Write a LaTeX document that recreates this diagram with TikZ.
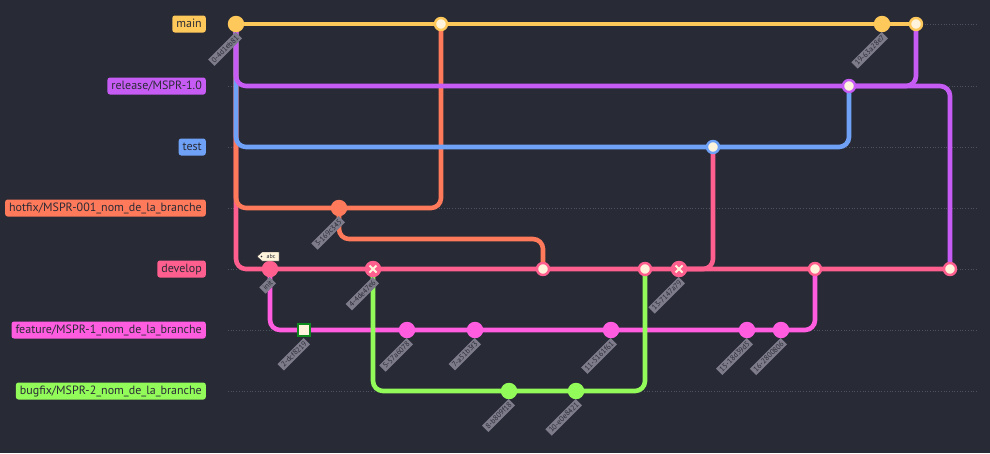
\documentclass[tikz,border=0pt]{standalone}
\usepackage{fontspec}
\setmainfont{PT Sans}
\usetikzlibrary{calc}
\definecolor{bg}{HTML}{282A36}
\definecolor{lanec}{HTML}{4E5160}
\definecolor{cmain}{HTML}{FFC85A}
\definecolor{crel}{HTML}{C75CF5}
\definecolor{ctest}{HTML}{6FA1F7}
\definecolor{chot}{HTML}{FF7A5A}
\definecolor{cdev}{HTML}{FF5F8F}
\definecolor{cfeat}{HTML}{FF5CE0}
\definecolor{cbug}{HTML}{92FB5A}
\definecolor{cream}{HTML}{FFF4DB}
\definecolor{hlgreen}{HTML}{0E8A1E}
\definecolor{labeltext}{HTML}{2B2B36}
\definecolor{clabbg}{HTML}{7E7C8B}
\begin{document}
\begin{tikzpicture}[x=1pt,y=-1pt,
  conn/.style={line width=4.6pt, rounded corners=10pt},
  lane/.style={draw=lanec, line width=0.7pt, dotted},
  blabel/.style={anchor=east, rounded corners=2.5pt, minimum height=17pt, inner xsep=4pt, inner ysep=0pt, text=labeltext, font=\fontsize{12}{13}\selectfont, text height=8.6pt, text depth=2.6pt},
  cmt/.style={circle, minimum size=16.5pt, inner sep=0pt},
  mgc/.style={circle, minimum size=12pt, inner sep=0pt, fill=cream, line width=2.4pt},
  rvc/.style={cmt, path picture={\draw[cream, line width=1.8pt] ([shift={(-3.5pt,-3.5pt)}]path picture bounding box.center) -- ([shift={(3.5pt,3.5pt)}]path picture bounding box.center) ([shift={(-3.5pt,3.5pt)}]path picture bounding box.center) -- ([shift={(3.5pt,-3.5pt)}]path picture bounding box.center);}},
  hlc/.style={rectangle, minimum size=12pt, inner sep=0pt, fill=cream, draw=hlgreen, line width=2.2pt},
  clabel/.style={anchor=east, rotate=45, fill=clabbg, text=labeltext, font=\fontsize{7.5}{8}\selectfont, inner xsep=2pt, inner ysep=1.8pt},
]
\fill[bg] (0,0) rectangle (990,453);
\useasboundingbox (0,0) rectangle (990,453);

% lanes
\foreach \yy in {24,86,147,208,269,330,391} \draw[lane] (228,\yy) -- (976,\yy);

% branch labels
\node[blabel, fill=cmain] (bmain) at (206,24) {main};
\node[blabel, fill=crel] (brel) at (206,86) {release/MSPR-1.0};
\node[blabel, fill=ctest] (btest) at (206,147) {test};
\node[blabel, fill=chot] (bhot) at (206,208) {hotfix/MSPR-001\_nom\_de\_la\_branche};
\node[blabel, fill=cdev] (bdev) at (206,269) {develop};
\node[blabel, fill=cfeat] (bfeat) at (206,330) {feature/MSPR-1\_nom\_de\_la\_branche};
\node[blabel, fill=cbug] (bbug) at (206,391) {bugfix/MSPR-2\_nom\_de\_la\_branche};

% commit positions
\coordinate (p0) at (236,24);
\coordinate (p1) at (270,269);
\coordinate (p2) at (304,330);
\coordinate (p3) at (339,208);
\coordinate (p4) at (373,269);
\coordinate (p5) at (407,330);
\coordinate (p6) at (441,24);
\coordinate (p7) at (475,330);
\coordinate (p8) at (509,391);
\coordinate (p9) at (543,269);
\coordinate (p10) at (576,391);
\coordinate (p11) at (611,330);
\coordinate (p12) at (645,269);
\coordinate (p13) at (679,269);
\coordinate (p14) at (713,147);
\coordinate (p15) at (747,330);
\coordinate (p16) at (781,330);
\coordinate (p17) at (815,269);
\coordinate (p18) at (849,86);
\coordinate (p19) at (882,24);
\coordinate (p20) at (916,24);
\coordinate (p21) at (950,269);

% connectors
\draw[conn, cdev] (p0) |- (p1) -- (p21);
\draw[conn, chot] (p0) |- (p3) -| (p6);
\draw[conn, chot] (p3) -- ++(0,31) -| (p9);
\draw[conn, cdev] (p13) -| (p14);
\draw[conn, ctest] (p0) |- (p14) -| (p18);
\draw[conn, crel] (p0) |- (p18) -| (p20);
\draw[conn, crel] (p18) -| (p21);
\draw[conn, cmain] (p0) -- (p20);
\draw[conn, cfeat] (p1) |- (p2) -- (p16) -| (p17);
\draw[conn, cbug] (p4) |- (p8) -- (p10) -| (p12);

% commits
\node[cmt, fill=cmain] (c0) at (p0) {};
\node[cmt, fill=cdev] (c1) at (p1) {};
\node[hlc] (c2) at (p2) {};
\node[cmt, fill=chot] (c3) at (p3) {};
\node[rvc, fill=cdev] (c4) at (p4) {};
\node[cmt, fill=cfeat] (c5) at (p5) {};
\node[mgc, draw=cmain] (c6) at (p6) {};
\node[cmt, fill=cfeat] (c7) at (p7) {};
\node[cmt, fill=cbug] (c8) at (p8) {};
\node[mgc, draw=cdev] (c9) at (p9) {};
\node[cmt, fill=cbug] (c10) at (p10) {};
\node[cmt, fill=cfeat] (c11) at (p11) {};
\node[mgc, draw=cdev] (c12) at (p12) {};
\node[rvc, fill=cdev] (c13) at (p13) {};
\node[mgc, draw=ctest] (c14) at (p14) {};
\node[cmt, fill=cfeat] (c15) at (p15) {};
\node[cmt, fill=cfeat] (c16) at (p16) {};
\node[mgc, draw=cdev] (c17) at (p17) {};
\node[mgc, draw=crel] (c18) at (p18) {};
\node[cmt, fill=cmain] (c19) at (p19) {};
\node[mgc, draw=cmain] (c20) at (p20) {};
\node[mgc, draw=cdev] (c21) at (p21) {};

% commit labels
\node[clabel] (l0) at ($(p0)+(3,11)$) {0-4d1eb81};
\node[clabel] (l1) at ($(p1)+(3,11)$) {init};
\node[clabel] (l2) at ($(p2)+(3,11)$) {2-dcf8219};
\node[clabel] (l3) at ($(p3)+(3,11)$) {3-169c345};
\node[clabel] (l4) at ($(p4)+(3,11)$) {4-4de47e6};
\node[clabel] (l5) at ($(p5)+(3,11)$) {5-57a6078};
\node[clabel] (l7) at ($(p7)+(3,11)$) {7-a51b3f3};
\node[clabel] (l8) at ($(p8)+(3,11)$) {8-b809f18};
\node[clabel] (l10) at ($(p10)+(3,11)$) {10-e0e8421};
\node[clabel] (l11) at ($(p11)+(3,11)$) {11-5161f61};
\node[clabel] (l13) at ($(p13)+(3,11)$) {13-7147a79};
\node[clabel] (l15) at ($(p15)+(3,11)$) {15-18d39d5};
\node[clabel] (l16) at ($(p16)+(3,11)$) {16-2800806};
\node[clabel] (l19) at ($(p19)+(3,11)$) {19-63a28e7};

% tag
\draw[fill=cream, draw=labeltext, line width=0.4pt] (279,252) -- (262,252) -- (257,256.5) -- (262,261) -- (279,261) -- cycle;
\fill[labeltext] (261.5,256.5) circle (0.9);
\node[text=labeltext, font=\fontsize{6}{6}\selectfont, inner sep=0pt] (tag) at (271,256.5) {abc};
\end{tikzpicture}
\end{document}
